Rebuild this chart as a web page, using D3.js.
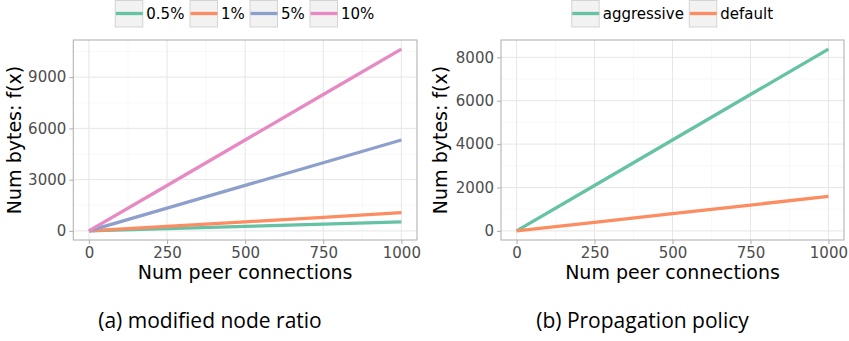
<!DOCTYPE html>
<html>
<head>
<meta charset="utf-8">
<script src="https://cdn.jsdelivr.net/npm/d3@7"></script>
<style>
  body { margin: 0; background: #fff; }
  svg { display: block; }
</style>
</head>
<body>
<svg id="chart" width="849" height="341"></svg>
<script>
// peer connections
var peers = [0, 250, 500, 750, 1000];

// panel (a): modified node ratio
var ratioNames = ["0.5%", "1%", "5%", "10%"];
var ratio05 = [0, 133, 266, 399, 532];
var ratio1 = [0, 266, 532, 798, 1064];
var ratio5 = [0, 1330, 2660, 3990, 5320];
var ratio10 = [0, 2660, 5320, 7980, 10640];
var ratioColors = ["#66c2a5", "#fc8d62", "#8da0cb", "#e78ac3"];
var ratioYTicks = [0, 3000, 6000, 9000];

// panel (b): propagation policy
var policyNames = ["aggressive", "default"];
var aggressive = [0, 2095, 4190, 6285, 8380];
var defaultPolicy = [0, 397, 795, 1192, 1590];
var policyColors = ["#66c2a5", "#fc8d62"];
var policyYTicks = [0, 2000, 4000, 6000, 8000];

var xTicks = [0, 250, 500, 750, 1000];

var svg = d3.select("#chart");

function drawPanel(opt){
  var left = opt.left, right = opt.right, top = 40, bottom = 240;
  var g = svg.append("g");

  var allVals = [];
  opt.series.forEach(function(s){ allVals = allVals.concat(s); });
  var ymax = d3.max(allVals), ymin = d3.min(allVals);
  var ypad = (ymax - ymin) * 0.05;
  var xpad = (d3.max(peers) - d3.min(peers)) * 0.05;

  var x = d3.scaleLinear()
    .domain([d3.min(peers) - xpad, d3.max(peers) + xpad])
    .range([left, right]);
  var y = d3.scaleLinear()
    .domain([ymin - ypad, ymax + ypad])
    .range([bottom, top]);

  // minor grid
  var xMinor = [], yMinor = [];
  for (var i = 0; i < xTicks.length - 1; i++) xMinor.push((xTicks[i] + xTicks[i+1]) / 2);
  var ystep = opt.yTicks[1] - opt.yTicks[0];
  opt.yTicks.forEach(function(t){ if (t + ystep/2 < y.domain()[1]) yMinor.push(t + ystep/2); });

  g.append("rect")
    .attr("x", left).attr("y", top)
    .attr("width", right - left).attr("height", bottom - top)
    .attr("fill", "#fff");

  g.selectAll(".xminor").data(xMinor).enter().append("line")
    .attr("x1", function(d){ return x(d); }).attr("x2", function(d){ return x(d); })
    .attr("y1", top).attr("y2", bottom)
    .attr("stroke", "#f3f3f3").attr("stroke-width", 0.6);
  g.selectAll(".yminor").data(yMinor).enter().append("line")
    .attr("y1", function(d){ return y(d); }).attr("y2", function(d){ return y(d); })
    .attr("x1", left).attr("x2", right)
    .attr("stroke", "#f3f3f3").attr("stroke-width", 0.6);
  g.selectAll(".xmajor").data(xTicks).enter().append("line")
    .attr("x1", function(d){ return x(d); }).attr("x2", function(d){ return x(d); })
    .attr("y1", top).attr("y2", bottom)
    .attr("stroke", "#e6e6e6").attr("stroke-width", 1);
  g.selectAll(".ymajor").data(opt.yTicks).enter().append("line")
    .attr("y1", function(d){ return y(d); }).attr("y2", function(d){ return y(d); })
    .attr("x1", left).attr("x2", right)
    .attr("stroke", "#e6e6e6").attr("stroke-width", 1);

  var line = d3.line()
    .x(function(d, i){ return x(peers[i]); })
    .y(function(d){ return y(d); });

  opt.series.forEach(function(s, k){
    g.append("path")
      .datum(s)
      .attr("fill", "none")
      .attr("stroke", opt.colors[k])
      .attr("stroke-width", 3.3)
      .attr("d", line);
  });

  g.append("rect")
    .attr("x", left).attr("y", top)
    .attr("width", right - left).attr("height", bottom - top)
    .attr("fill", "none").attr("stroke", "#b3b3b3").attr("stroke-width", 1.1);

  var xAxis = g.append("g")
    .attr("transform", "translate(0," + bottom + ")")
    .call(d3.axisBottom(x).tickValues(xTicks).tickSize(4).tickPadding(3).tickFormat(d3.format("d")));
  var yAxis = g.append("g")
    .attr("transform", "translate(" + left + ",0)")
    .call(d3.axisLeft(y).tickValues(opt.yTicks).tickSize(4).tickPadding(3).tickFormat(d3.format("d")));
  [xAxis, yAxis].forEach(function(a){
    a.attr("font-family", "DejaVu Sans").attr("font-size", 15);
    a.select(".domain").remove();
    a.selectAll("line").attr("stroke", "#b3b3b3").attr("stroke-width", 1.1);
    a.selectAll("text").attr("fill", "#4d4d4d");
  });

  g.append("text")
    .attr("x", (left + right) / 2).attr("y", 279)
    .attr("text-anchor", "middle")
    .style("font-family", "DejaVu Sans").style("font-size", "19px")
    .attr("fill", "#000")
    .text("Num peer connections");

  g.append("text")
    .attr("transform", "translate(" + opt.yTitleX + "," + (top + bottom) / 2 + ") rotate(-90)")
    .attr("text-anchor", "middle")
    .style("font-family", "DejaVu Sans").style("font-size", "19px")
    .attr("fill", "#000")
    .text("Num bytes: f(x)");

  // legend
  var lg = g.append("g");
  opt.names.forEach(function(n, k){
    var kx = opt.legendX[k];
    lg.append("rect")
      .attr("x", kx).attr("y", 0.5).attr("width", 27.5).attr("height", 26.5)
      .attr("fill", "#f2f2f2").attr("stroke", "#d4d4d4").attr("stroke-width", 1);
    lg.append("line")
      .attr("x1", kx + 0.5).attr("x2", kx + 27.5)
      .attr("y1", 13.5).attr("y2", 13.5)
      .attr("stroke", opt.colors[k]).attr("stroke-width", 3.3);
    lg.append("text")
      .attr("x", kx + 31).attr("y", 13.5)
      .attr("dy", "0.35em")
      .style("font-family", "DejaVu Sans").style("font-size", "15px")
      .attr("fill", "#000")
      .text(n);
  });

  g.append("text")
    .attr("x", opt.captionX).attr("y", 328)
    .attr("text-anchor", "middle")
    .style("font-family", "Open Sans").style("font-size", "21px")
    .attr("fill", "#000")
    .text(opt.caption);
}

drawPanel({
  left: 73.3, right: 417,
  series: [ratio05, ratio1, ratio5, ratio10],
  colors: ratioColors,
  names: ratioNames,
  legendX: [115.3, 190, 250, 310],
  yTicks: ratioYTicks,
  yTitleX: 21,
  caption: "(a) modified node ratio",
  captionX: 210
});

drawPanel({
  left: 501, right: 844,
  series: [aggressive, defaultPolicy],
  colors: policyColors,
  names: policyNames,
  legendX: [571.7, 689.3],
  yTicks: policyYTicks,
  yTitleX: 447,
  caption: "(b) Propagation policy",
  captionX: 642.5
});
</script>
</body>
</html>
